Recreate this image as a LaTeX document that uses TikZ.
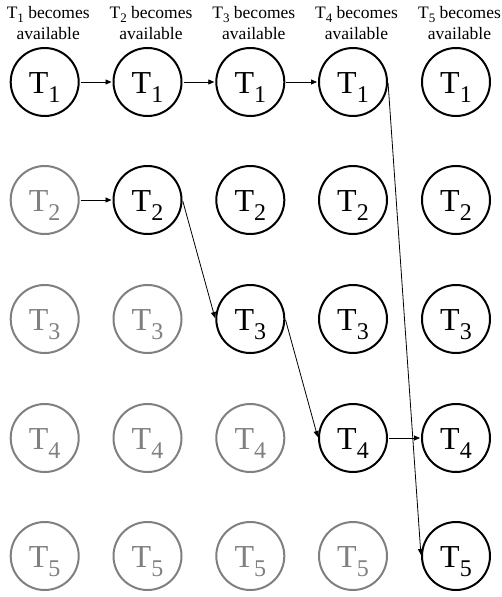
\documentclass[tikz,border=0pt]{standalone}
\usepackage{fontspec}
\setmainfont{Liberation Serif}
\usetikzlibrary{arrows.meta}
\definecolor{idlegray}{HTML}{808080}
\newcommand\tsub[1]{T{\fontsize{24}{24}\selectfont\raisebox{-8.4pt}{#1}}}
\newcommand\hsub[1]{T{\fontsize{13}{13}\selectfont\raisebox{-3.5pt}{#1}}}
\tikzset{
  task/.style={circle, line width=2pt, minimum size=68pt, inner sep=0pt,
    text height=23.6pt, text depth=0pt, font=\fontsize{32}{32}\selectfont},
  done/.style={task, draw=black, text=black},
  idle/.style={task, draw=idlegray, text=idlegray},
  link/.style={-{Triangle[length=6pt,width=5pt]}, line width=0.8pt, shorten >=1pt, shorten <=1pt},
  hdr/.style={align=center, font=\fontsize{17.5}{21}\selectfont, inner sep=0pt, anchor=north}
}
\begin{document}
\begin{tikzpicture}[x=1pt,y=-1pt]
\useasboundingbox[fill=white] (0,0) rectangle (502,597);
% headers
\node[hdr] (h1) at (48.2,6.3) {\hsub{1} becomes\\available};
\node[hdr] (h2) at (151,6.3) {\hsub{2} becomes\\available};
\node[hdr] (h3) at (253.8,6.3) {\hsub{3} becomes\\available};
\node[hdr] (h4) at (356.5,6.3) {\hsub{4} becomes\\available};
\node[hdr] (h5) at (459.5,6.3) {\hsub{5} becomes\\available};
% row 1
\node[done] (n11) at (44.7,82) {\tsub{1}};
\node[done] (n12) at (147.5,82) {\tsub{1}};
\node[done] (n13) at (250.3,82) {\tsub{1}};
\node[done] (n14) at (353,82) {\tsub{1}};
\node[done] (n15) at (456,82) {\tsub{1}};
% row 2
\node[idle] (n21) at (44.7,200) {\tsub{2}};
\node[done] (n22) at (147.5,200) {\tsub{2}};
\node[done] (n23) at (250.3,200) {\tsub{2}};
\node[done] (n24) at (353,200) {\tsub{2}};
\node[done] (n25) at (456,200) {\tsub{2}};
% row 3
\node[idle] (n31) at (44.7,319) {\tsub{3}};
\node[idle] (n32) at (147.5,319) {\tsub{3}};
\node[done] (n33) at (250.3,319) {\tsub{3}};
\node[done] (n34) at (353,319) {\tsub{3}};
\node[done] (n35) at (456,319) {\tsub{3}};
% row 4
\node[idle] (n41) at (44.7,438) {\tsub{4}};
\node[idle] (n42) at (147.5,438) {\tsub{4}};
\node[idle] (n43) at (250.3,438) {\tsub{4}};
\node[done] (n44) at (353,438) {\tsub{4}};
\node[done] (n45) at (456,438) {\tsub{4}};
% row 5
\node[idle] (n51) at (44.7,556) {\tsub{5}};
\node[idle] (n52) at (147.5,556) {\tsub{5}};
\node[idle] (n53) at (250.3,556) {\tsub{5}};
\node[idle] (n54) at (353,556) {\tsub{5}};
\node[done] (n55) at (456,556) {\tsub{5}};
% connectors
\draw[link] (n11.east) -- (n12.west);
\draw[link] (n12.east) -- (n13.west);
\draw[link] (n13.east) -- (n14.west);
\draw[link] (n21.east) -- (n22.west);
\draw[link] (n22.east) -- (n33.west);
\draw[link] (n33.east) -- (n44.west);
\draw[link] (n44.east) -- (n45.west);
\draw[link] (n14.east) -- (n55.west);
\end{tikzpicture}
\end{document}
